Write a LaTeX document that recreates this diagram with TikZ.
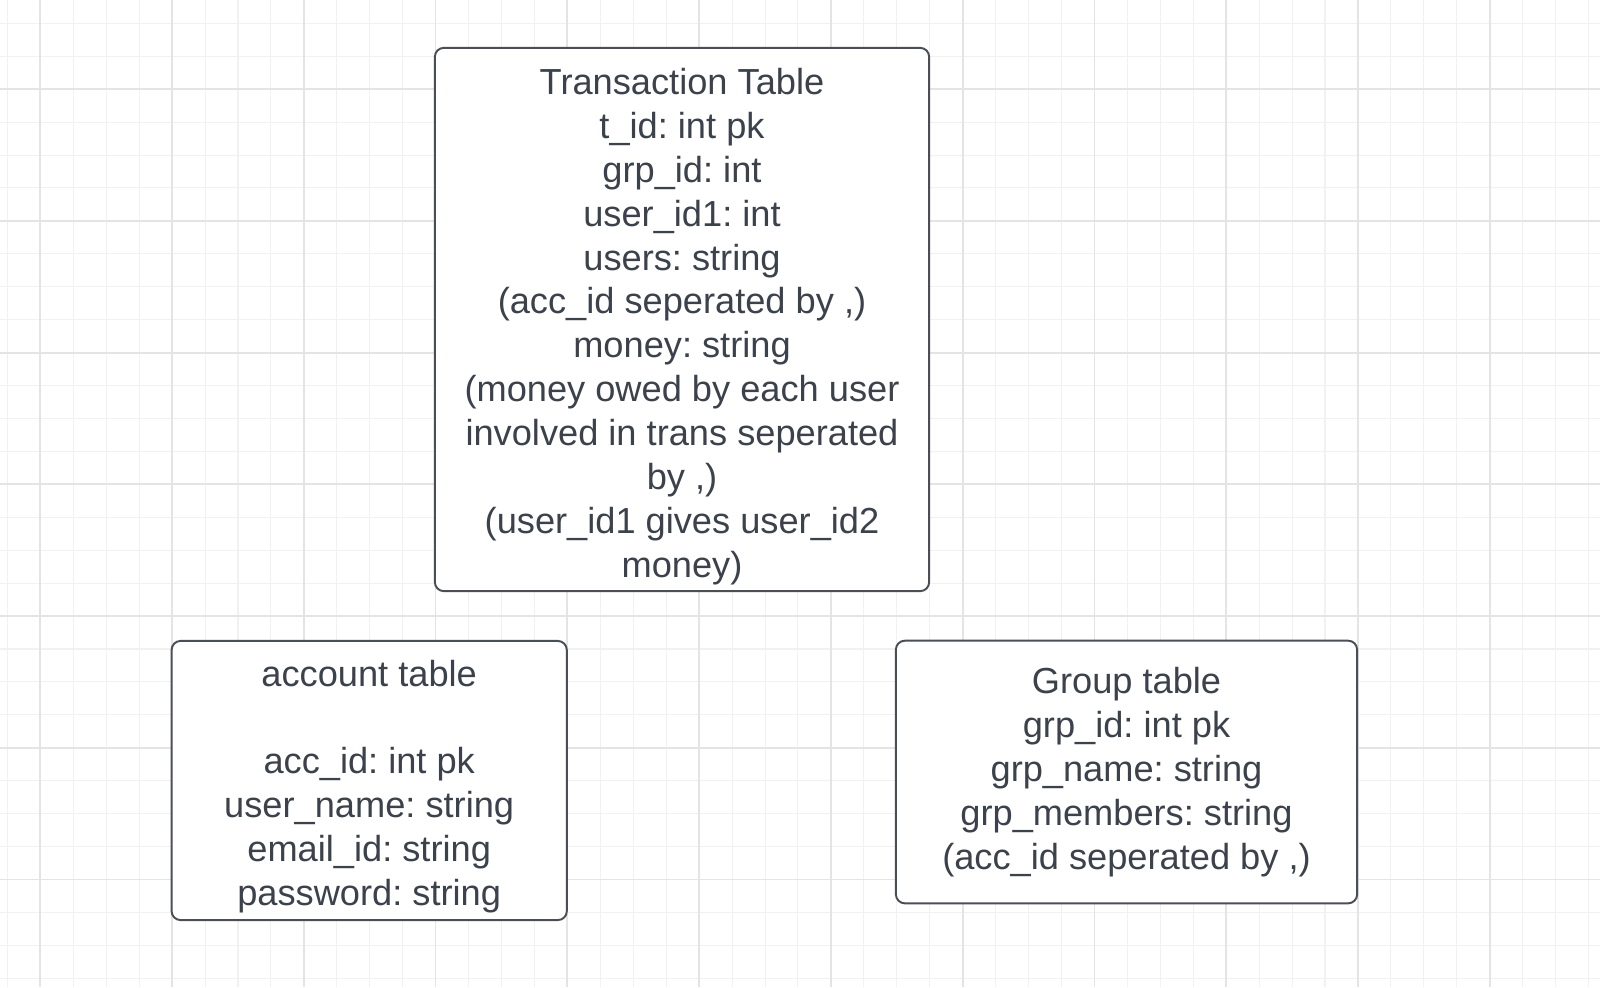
\documentclass[tikz,border=0pt]{standalone}
\usepackage{fontspec}
\setmainfont{Liberation Sans}
\usetikzlibrary{positioning}
\definecolor{gridminor}{HTML}{F1F1F1}
\definecolor{gridmajor}{HTML}{E4E4E4}
\definecolor{boxline}{HTML}{4A4E55}
\definecolor{boxtext}{HTML}{3B424B}
\frenchspacing

\begin{document}
\begin{tikzpicture}[x=0.01cm,y=-0.01cm,
		minorline/.style={draw=gridminor,line width=0.3pt},
		majorline/.style={draw=gridmajor,line width=0.5pt},
		tablebox/.style={draw=boxline,line width=0.55pt,rounded corners=0.09cm,fill=white},
		tabletext/.style={text=boxtext,align=center,inner sep=0pt,font=\fontsize{10.3}{12.49}\selectfont}]
		\useasboundingbox (0,0) rectangle (1600,987);
		\fill[white] (0,0) rectangle (1600,987);
		\foreach \k in {0,...,48}
			\draw[minorline] ({7.4+32.94*\k},0) -- ++(0,987);
		\foreach \k in {0,...,29}
			\draw[minorline] (0,{23.3+32.93*\k}) -- ++(1600,0);
		\foreach \k in {0,...,11}
			\draw[majorline] ({40.3+131.76*\k},0) -- ++(0,987);
		\foreach \k in {0,...,6}
			\draw[majorline] (0,{89.2+131.72*\k}) -- ++(1600,0);
		\path
		(682,319.5) node[tablebox,minimum width=4.94cm,minimum height=5.43cm](trans) {}
		(369.2,780.5) node[tablebox,minimum width=3.95cm,minimum height=2.79cm](account) {}
		(1126.5,772) node[tablebox,minimum width=4.61cm,minimum height=2.625cm](group) {};
		\path
		([yshift=-0.07cm]trans.center) node[tabletext](transtext) {Transaction Table\\
			t\_id: int pk\\
			grp\_id: int\\
			user\_id1: int\\
			users: string\\
			(acc\_id seperated by ,)\\
			money: string\\
			(money owed by each user\\
			involved in trans seperated\\
			by ,)\\
			(user\_id1 gives user\_id2\\
			money)}
		([yshift=-0.06cm]account.center) node[tabletext](accounttext) {account table\\[12.49pt]
			acc\_id: int pk\\
			user\_name: string\\
			email\_id: string\\
			password: string}
		(group.center) node[tabletext](grouptext) {Group table\\
			grp\_id: int pk\\
			grp\_name: string\\
			grp\_members: string\\
			(acc\_id seperated by ,)};
	\end{tikzpicture}
\end{document}
